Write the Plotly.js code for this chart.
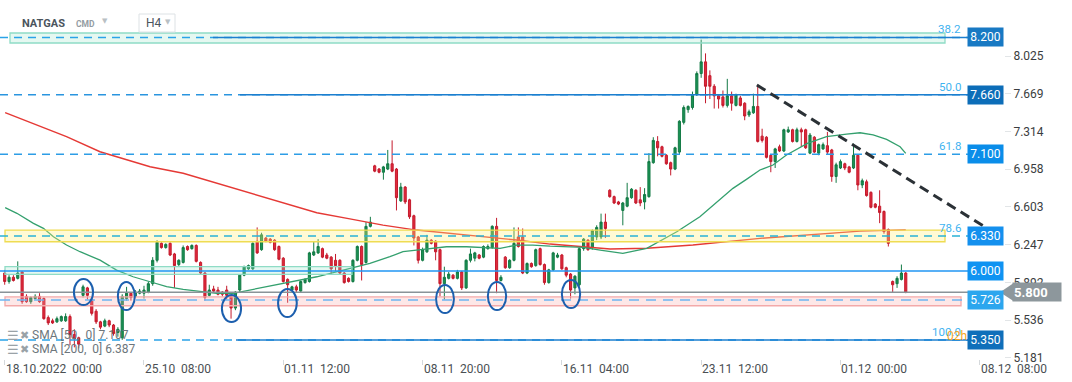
<!DOCTYPE html>
<html><head><meta charset="utf-8">
<script src="https://cdn.plot.ly/plotly-3.0.1.min.js"></script>
<style>html,body{margin:0;padding:0;background:#fff;overflow:hidden}#chart{width:1072px;height:382px}</style>
</head><body><div id="chart"></div>
<script>
// ---- candle data (H4 bars) ----
const openP = [5.98,5.90,5.94,5.93,5.99,5.76,5.71,5.74,5.76,5.74,5.56,5.53,5.52,5.53,5.53,5.57,5.40,5.37,5.77,5.84,
5.73,5.62,5.52,5.48,5.53,5.49,5.42,5.37,5.74,5.79,5.76,5.79,5.79,5.80,5.88,6.10,6.26,6.22,6.26,6.16,
6.06,6.08,6.23,6.21,6.24,6.08,5.98,5.77,5.83,5.82,5.80,5.82,5.76,5.65,5.82,5.96,6.02,6.02,6.28,6.20,
6.31,6.30,6.29,6.23,6.12,5.92,5.82,5.85,5.81,5.89,5.90,6.15,6.17,6.21,6.15,6.13,6.10,6.10,5.98,5.93,
5.90,6.10,6.23,6.08,6.42,6.99,6.96,6.93,6.96,7.01,6.96,6.66,6.79,6.67,6.52,6.32,6.10,6.18,6.29,6.28,
6.20,5.88,5.93,5.96,5.93,5.99,5.84,6.10,6.12,6.15,6.13,6.21,6.22,6.42,5.91,6.13,6.03,6.10,6.32,6.32,
5.98,6.07,6.05,6.21,6.06,5.89,6.01,6.13,6.15,6.03,5.97,5.84,5.87,6.21,6.29,6.22,6.32,6.32,6.46,6.76,
6.70,6.65,6.57,6.61,6.69,6.76,6.67,6.65,6.70,7.02,7.22,7.17,7.09,7.02,6.96,7.12,7.40,7.52,7.54,7.66,
7.86,7.97,7.84,7.74,7.65,7.64,7.56,7.65,7.56,7.63,7.58,7.47,7.49,7.55,7.27,7.26,7.09,7.03,7.17,7.13,
7.31,7.33,7.22,7.33,7.33,7.11,7.26,7.11,7.15,7.18,7.14,6.89,6.97,7.01,6.98,6.97,7.09,6.81,6.84,6.74,
6.63,6.61,6.56,6.39,5.90,5.88,5.92,5.98];
const highP = [6.01,5.96,5.96,6.09,6.00,5.78,5.76,5.78,5.79,5.75,5.58,5.55,5.57,5.58,5.60,5.59,5.45,5.38,5.87,5.85,
5.75,5.64,5.53,5.55,5.54,5.50,5.47,5.78,5.85,5.80,5.82,5.83,5.86,5.90,6.13,6.29,6.27,6.26,6.27,6.17,
6.11,6.24,6.24,6.25,6.25,6.09,5.99,5.87,5.86,5.85,5.81,5.86,5.77,5.81,5.97,6.05,6.06,6.27,6.41,6.36,
6.32,6.31,6.30,6.24,6.13,5.93,5.86,5.87,5.91,5.93,6.18,6.28,6.30,6.22,6.17,6.14,6.16,6.11,5.99,5.94,
6.11,6.24,6.24,6.46,6.51,7.00,6.97,6.99,7.14,7.23,6.97,6.83,6.80,6.68,6.53,6.33,6.22,6.34,6.30,6.29,
6.21,6.04,5.99,5.97,6.01,6.00,6.11,6.21,6.18,6.16,6.24,6.25,6.43,6.50,5.96,6.14,6.11,6.41,6.41,6.40,
6.08,6.08,6.21,6.22,6.07,6.02,6.18,6.17,6.16,6.04,5.98,5.96,6.22,6.31,6.30,6.39,6.43,6.54,6.54,6.77,
6.71,6.66,6.65,6.83,6.78,6.77,6.79,6.78,7.11,7.26,7.27,7.18,7.10,7.03,7.17,7.42,7.56,7.56,7.69,7.88,
8.18,8.05,7.89,7.76,7.66,7.70,7.81,7.69,7.67,7.65,7.59,7.52,7.67,7.75,7.34,7.27,7.10,7.16,7.19,7.34,
7.36,7.34,7.35,7.35,7.34,7.30,7.27,7.20,7.21,7.31,7.15,7.02,7.05,7.02,6.99,7.20,7.10,6.87,6.86,6.75,
6.64,6.76,6.57,6.40,5.91,5.95,6.06,5.99];
const lowP = [5.87,5.88,5.90,5.92,5.69,5.70,5.69,5.73,5.70,5.54,5.49,5.50,5.51,5.52,5.52,5.30,5.28,5.27,5.75,5.73,
5.58,5.50,5.45,5.47,5.47,5.39,5.38,5.35,5.72,5.72,5.75,5.78,5.74,5.79,5.86,6.08,6.21,6.21,6.14,5.84,
6.04,6.07,6.19,6.20,6.08,5.97,5.72,5.76,5.80,5.77,5.76,5.73,5.55,5.63,5.80,5.95,6.01,6.01,6.16,6.19,
6.27,6.26,6.19,6.10,5.89,5.70,5.81,5.80,5.80,5.88,5.89,6.14,6.16,6.12,6.11,5.97,6.00,5.97,5.88,5.89,
5.89,6.09,5.91,6.07,6.41,6.93,6.92,6.86,6.95,6.93,6.57,6.65,6.63,6.49,6.24,6.07,6.09,6.17,6.25,6.10,
5.76,5.73,5.92,5.92,5.92,5.82,5.83,6.08,6.09,6.11,6.12,6.20,6.21,5.79,5.90,6.02,6.02,6.09,6.22,5.97,
5.97,6.03,6.04,6.05,5.87,5.88,6.00,6.12,6.01,5.94,5.74,5.78,5.85,6.19,6.19,6.20,6.29,6.30,6.31,6.69,
6.63,6.62,6.43,6.60,6.68,6.63,6.61,6.58,6.69,7.01,7.08,7.07,7.00,6.90,6.95,7.10,7.38,7.49,7.52,7.65,
7.82,7.58,7.62,7.53,7.53,7.54,7.54,7.51,7.55,7.55,7.42,7.45,7.48,7.21,7.21,7.06,6.93,6.97,7.12,7.12,
7.30,7.21,7.21,7.17,7.15,7.10,7.11,7.09,7.14,7.10,6.84,6.83,6.96,6.95,6.92,6.96,6.76,6.78,6.70,6.59,
6.59,6.45,6.35,6.23,5.80,5.84,5.91,5.79];
const closeP = [5.90,5.94,5.91,5.98,5.71,5.71,5.75,5.76,5.71,5.55,5.51,5.51,5.55,5.57,5.57,5.40,5.36,5.31,5.85,5.77,
5.60,5.52,5.47,5.53,5.49,5.41,5.45,5.76,5.79,5.75,5.80,5.81,5.82,5.88,6.10,6.27,6.22,6.25,6.15,6.05,
6.10,6.22,6.20,6.24,6.09,5.98,5.75,5.82,5.81,5.78,5.78,5.77,5.65,5.80,5.96,6.04,6.05,6.26,6.17,6.34,
6.28,6.27,6.20,6.11,5.90,5.87,5.85,5.82,5.90,5.92,6.17,6.18,6.23,6.13,6.12,6.02,6.05,5.98,5.89,5.90,
6.10,6.23,6.06,6.42,6.46,6.94,6.93,6.98,7.01,6.94,6.69,6.79,6.65,6.51,6.31,6.10,6.20,6.29,6.26,6.18,
5.88,5.94,5.97,5.93,5.99,5.84,6.10,6.16,6.17,6.12,6.23,6.23,6.42,5.91,5.94,6.03,6.10,6.26,6.23,5.98,
6.07,6.04,6.20,6.06,5.89,6.01,6.17,6.15,6.02,5.96,5.82,5.95,6.21,6.30,6.20,6.38,6.41,6.46,6.40,6.70,
6.64,6.63,6.64,6.69,6.77,6.64,6.64,6.72,7.03,7.23,7.16,7.08,7.01,6.96,7.16,7.41,7.54,7.55,7.66,7.86,
7.97,7.74,7.74,7.65,7.62,7.56,7.65,7.58,7.66,7.56,7.46,7.50,7.55,7.22,7.23,7.07,7.03,7.15,7.13,7.33,
7.33,7.22,7.33,7.31,7.16,7.28,7.12,7.19,7.19,7.12,6.89,7.00,7.03,6.97,6.93,7.09,6.81,6.85,6.71,6.60,
6.60,6.55,6.37,6.26,5.87,5.93,5.98,5.80];

// ---- moving averages (bar index, value) ----
const sma50Idx = [0.1,2.8,6.6,8.9,11.2,14.2,17.3,21.9,25.7,29.5,33.4,37.2,41,44.9,48.7,52.5,56.4,60.2,64,67.8,71.7,75.5,79.3,83.9,88.5,91.5,94.6,98.4,101.5,106.1,109.9,113.8,117.6,121.3,125.3,129.1,132.9,136.8,142,147.5,154.4,159.7,164.3,167.3,170.4,173.5,176.5,179.6,184.4,188.8,193.4,196.5,199.5,202.6,205.7,207];
const sma50Val = [6.596,6.543,6.448,6.401,6.322,6.244,6.181,6.102,6.008,5.945,5.898,5.851,5.826,5.804,5.789,5.789,5.820,5.851,5.883,5.914,5.945,5.983,6.022,6.071,6.134,6.181,6.197,6.213,6.228,6.228,6.222,6.213,6.244,6.244,6.234,6.228,6.222,6.197,6.166,6.213,6.369,6.511,6.668,6.778,6.863,6.951,6.998,7.092,7.202,7.265,7.290,7.302,7.281,7.240,7.170,7.107];
const sma200Idx = [0.1,6.5,14.2,21.9,29.5,33.4,41,48.7,56.4,63.9,71.7,79.3,86.9,94.6,102.3,109.9,117.6,125.3,132.9,139.1,147.5,158.1,173.5,188.8,196.5,207];
const sma200Val = [7.491,7.391,7.265,7.123,7.029,6.982,6.920,6.825,6.731,6.643,6.548,6.491,6.432,6.385,6.354,6.322,6.291,6.253,6.228,6.206,6.213,6.244,6.307,6.348,6.375,6.387];

// ---- axis labels ----
const xTickIdx = [0,32,64,96,128,160,192,224];
const xTickText = ["18.10.2022\u00a0\u00a000:00","25.10\u00a0\u00a008:00","01.11\u00a0\u00a012:00","08.11\u00a0\u00a020:00","16.11\u00a0\u00a004:00","23.11\u00a0\u00a012:00","01.12\u00a0\u00a000:00","08.12\u00a0\u00a008:00"];
const yTicks = [8.025,7.669,7.314,6.958,6.603,6.247,5.892,5.536,5.181];

// ---- drawn levels ----
const levelValues = [8.200,7.660,7.100,6.330,6.000,5.726,5.350];
const levelColors = ['#1879c3','#0c6db8','#0a8de9','#1490ee','#0f93f2','#2ca6ee','#0f6fba'];
const fibLevels = [8.200,7.660,7.100,6.330,5.350];
const fibText = ['38.2','50.0','61.8','78.6','100.0'];
const lastPrice = 5.800;
const smaLegend = ['SMA [50,\u00a0 0] 7.107','SMA [200,\u00a0 0] 6.387'];

const idx = openP.map((_, i) => i);
const W = 1004, PH = 359;
const px = p => p / W;           // pixel -> paper x
const py = p => 1 - p / PH;      // pixel -> paper y
const FONT = 'Roboto, "Open Sans", sans-serif';

const traces = [
  {type:'candlestick', x: idx, open: openP, high: highP, low: lowP, close: closeP,
   increasing:{line:{color:'#137a45', width:1}, fillcolor:'#1a9254'},
   decreasing:{line:{color:'#c41a2c', width:1}, fillcolor:'#e02a3c'},
   whiskerwidth:0, hoverinfo:'skip'},
  {type:'scatter', mode:'lines', x: sma200Idx, y: sma200Val, line:{color:'#e53935', width:1.4}, hoverinfo:'skip'},
  {type:'scatter', mode:'lines', x: sma50Idx, y: sma50Val, line:{color:'#34a06e', width:1.3}, hoverinfo:'skip'}
];

const shapes = [];
function hline(y, x0, x1, color, dash, width){
  shapes.push({type:'line', xref:'paper', yref:'y', x0:px(x0), x1:px(x1), y0:y, y1:y,
    line:{color:color, width:width||1.5, dash:dash||'solid'}, layer:'above'});
}
function band(y0, y1, x0, x1, fill, line){
  shapes.push({type:'rect', xref:'paper', yref:'y', x0:px(x0), x1:px(x1), y0:y0, y1:y1,
    fillcolor:fill, line:{color:line, width:1.3}, layer:'above'});
}
// zones
band(8.148, 8.242, 10, 945, 'rgba(150,228,200,0.25)', '#8fdcc6');
band(6.275, 6.385, 5, 945, 'rgba(255,238,120,0.32)', '#efdc52');
band(5.968, 6.040, 5, 352, 'rgba(150,228,200,0.25)', '#8fdcc6');
band(5.672, 5.755, 5, 961, 'rgba(248,170,170,0.28)', '#f3a9a9');
// dashed level lines
hline(levelValues[0], 0, 968, '#2aa3e8', '8px,6px');
hline(levelValues[1], 0, 968, '#2a95df', '8px,6px');
hline(levelValues[2], 0, 968, '#2d9de6', '8px,6px');
hline(levelValues[3], 0, 968, '#2ab3d6', '8px,6px');
hline(levelValues[5], 0, 968, '#6cb6f2', '10px,7px');
hline(levelValues[6], 0, 968, '#2aa3e8', '8px,6px');
// solid fib lines
hline(fibLevels[0], 213, 968, '#1c7fcf');
hline(fibLevels[1], 240, 968, '#1c7fcf');
hline(fibLevels[4], 236, 968, '#1c7fcf');
hline(levelValues[4], 0, 968, '#2196f3');
hline(lastPrice, 0, 1001, '#8a9398');
// trend line
shapes.push({type:'line', xref:'x', yref:'y', x0:172.8, y0:7.752, x1:225.2, y1:6.414,
  line:{color:'#2b3136', width:3, dash:'10px,6px'}, layer:'above'});
// ellipses
const ell = [[15.9,20.3,5.678,5.924],[26.0,29.9,5.631,5.895],[49.9,54.3,5.518,5.773],[62.8,67.1,5.565,5.829],
             [99.1,103.2,5.603,5.867],[111.0,115.2,5.631,5.895],[128.0,132.2,5.650,5.914]];
ell.forEach(e => shapes.push({type:'circle', xref:'x', yref:'y', x0:e[0], x1:e[1], y0:e[2], y1:e[3],
  line:{color:'#1c5fae', width:2}, layer:'above'}));
// H4 box
shapes.push({type:'rect', xref:'paper', yref:'paper', x0:px(139), x1:px(175), y0:py(32), y1:py(14),
  fillcolor:'#ffffff', line:{color:'#dde2e5', width:1}});
// last price arrow
shapes.push({type:'path', xref:'paper', yref:'y',
  path:`M ${px(1000)} ${lastPrice} L ${px(1013)} ${lastPrice+0.082} L ${px(1013)} ${lastPrice-0.082} Z`,
  fillcolor:'#8d979c', line:{width:0}});

const annotations = [];
// x labels
xTickIdx.forEach((v, i) => annotations.push({x:v, xref:'x', y:0, yref:'paper', xanchor:'left', yanchor:'top',
  xshift:-1, yshift:-1, text:xTickText[i], showarrow:false, font:{family:FONT, size:12, color:'#4a4f53'}}));
// fib labels
fibLevels.forEach((v, i) => annotations.push({x:px(963), xref:'paper', y:v, yref:'y', xanchor:'right', yanchor:'bottom',
  yshift:-1, text:fibText[i], showarrow:false, font:{family:FONT, size:11.5, color:'#3fb3f0'}}));
// countdown
annotations.push({x:px(945), xref:'paper', y:5.35, yref:'y', xanchor:'left', yanchor:'middle', yshift:4,
  text:'02h\u00a0\u00a045', showarrow:false, font:{family:FONT, size:12, color:'#f5a623'}});
// level tags
levelValues.forEach((v, i) => annotations.push({x:px(985.5), xref:'paper', y:v, yref:'y', xanchor:'center', yanchor:'middle',
  text:v.toFixed(3), showarrow:false, bgcolor:levelColors[i], width:33, height:16, borderpad:1,
  font:{family:FONT, size:12, color:'#ffffff'}}));
// last price tag
annotations.push({x:px(1012), xref:'paper', y:lastPrice, yref:'y', xanchor:'left', yanchor:'middle',
  text:'<b>' + lastPrice.toFixed(3) + '</b>', showarrow:false, bgcolor:'#8d979c', width:46, height:16, borderpad:1,
  align:'left', font:{family:FONT, size:13, color:'#ffffff'}});
// header
annotations.push({x:px(20), xref:'paper', y:py(23), yref:'paper', xanchor:'left', yanchor:'middle', text:'<b>NATGAS</b>',
  showarrow:false, font:{family:FONT, size:11, color:'#4b555d'}});
annotations.push({x:px(74), xref:'paper', y:py(24), yref:'paper', xanchor:'left', yanchor:'middle', text:'<b>CMD</b>',
  showarrow:false, font:{family:FONT, size:8.5, color:'#939ca2'}});
annotations.push({x:px(100), xref:'paper', y:py(21), yref:'paper', xanchor:'left', yanchor:'middle', text:'\u25BC',
  showarrow:false, font:{family:'DejaVu Sans', size:7, color:'#b9c0c4'}});
annotations.push({x:px(144), xref:'paper', y:py(23), yref:'paper', xanchor:'left', yanchor:'middle', text:'H4',
  showarrow:false, font:{family:FONT, size:12, color:'#4b555d'}});
annotations.push({x:px(163), xref:'paper', y:py(22), yref:'paper', xanchor:'left', yanchor:'middle', text:'\u25BC',
  showarrow:false, font:{family:'DejaVu Sans', size:7, color:'#b9c0c4'}});
// SMA legend
[335, 349].forEach((yy, i) => {
  annotations.push({x:px(5), xref:'paper', y:py(yy), yref:'paper', xanchor:'left', yanchor:'middle', text:'\u2630',
    showarrow:false, font:{family:'DejaVu Sans', size:13, color:'#9aa2a7'}});
  annotations.push({x:px(18), xref:'paper', y:py(yy), yref:'paper', xanchor:'left', yanchor:'middle', text:'\u2716',
    showarrow:false, font:{family:'DejaVu Sans', size:11, color:'#9aa2a7'}});
  annotations.push({x:px(30), xref:'paper', y:py(yy), yref:'paper', xanchor:'left', yanchor:'middle', text:smaLegend[i],
    showarrow:false, font:{family:FONT, size:12, color:'#6d767b'}});
});

const layout = {
  width:1072, height:382, margin:{l:0, r:68, t:0, b:23},
  paper_bgcolor:'#ffffff', plot_bgcolor:'#ffffff', showlegend:false,
  font:{family:FONT},
  xaxis:{range:[-1.08, 229.57], showgrid:false, zeroline:false, showline:false,
    tickmode:'array', tickvals:xTickIdx, ticks:'outside', ticklen:5, tickcolor:'#d5d9dc',
    showticklabels:false, rangeslider:{visible:false}, fixedrange:true},
  yaxis:{side:'right', range:[5.17, 8.553], showgrid:false, zeroline:false, showline:false,
    tickmode:'array', tickvals:yTicks, ticktext:yTicks.map(v => v.toFixed(3)),
    ticks:'outside', ticklen:6, tickcolor:'#e2e5e7', tickfont:{family:FONT, size:12, color:'#3a3d40'},
    fixedrange:true},
  shapes:shapes, annotations:annotations
};
Plotly.newPlot('chart', traces, layout, {staticPlot:true, displayModeBar:false});
</script></body></html>
